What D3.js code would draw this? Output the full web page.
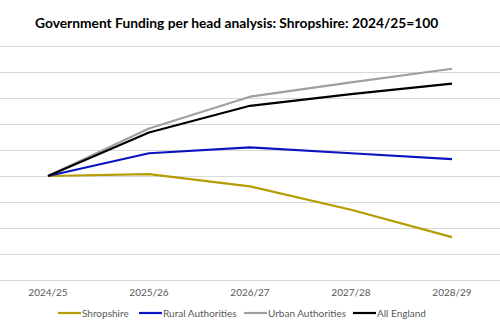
<!DOCTYPE html>
<html lang="en">
<head>
    <meta charset="UTF-8">
    <title>Government Funding per head analysis</title>
    <style>
        body { margin: 0; background: #fff; }
        .title { font-family: Lato, "Open Sans", sans-serif; font-weight: bold; font-size: 13.8px; fill: #000; }
        .tick-label, .legend text { font-family: Lato, "Open Sans", sans-serif; font-size: 10px; fill: #595959; }
        .grid line { stroke: #d9d9d9; stroke-width: 1px; }
        .series { fill: none; stroke-width: 2.2px; stroke-linejoin: round; }
    </style>
    <script src="https://d3js.org/d3.v7.min.js"></script>
</head>
<body>
    <div id="chart"></div>
    <script>
        const width = 500;
        const height = 333;

        // Index values, 2024/25 = 100
        const years = ["2024/25", "2025/26", "2026/27", "2027/28", "2028/29"];
        const shropshire = [100, 100.15, 99.2, 97.4, 95.3];
        const rural = [100, 101.75, 102.2, 101.75, 101.3];
        const urban = [100, 103.65, 106.1, 107.2, 108.25];
        const england = [100, 103.35, 105.4, 106.3, 107.1];
        const gridTicks = [92, 94, 96, 98, 100, 102, 104, 106, 108, 110];

        const series = [
            { name: "Shropshire", values: shropshire, color: "#b59c00" },
            { name: "Rural Authorities", values: rural, color: "#0a14c0" },
            { name: "Urban Authorities", values: urban, color: "#a0a0a0" },
            { name: "All England", values: england, color: "#000000" }
        ];

        const svg = d3.select("#chart").append("svg")
            .attr("width", width)
            .attr("height", height);

        const x = d3.scalePoint()
            .domain(years)
            .range([48, 452]);

        const y = d3.scaleLinear()
            .domain([92, 110])
            .range([280, 46]);

        svg.append("text")
            .attr("class", "title")
            .attr("x", 35)
            .attr("y", 28)
            .text("Government Funding per head analysis: Shropshire: 2024/25=100");

        // horizontal gridlines, running the full width
        svg.append("g")
            .attr("class", "grid")
            .selectAll("line")
            .data(gridTicks)
            .join("line")
            .attr("x1", 0)
            .attr("x2", width)
            .attr("y1", d => Math.round(y(d)) + 0.5)
            .attr("y2", d => Math.round(y(d)) + 0.5);

        svg.append("g")
            .selectAll("text")
            .data(years)
            .join("text")
            .attr("class", "tick-label")
            .attr("x", d => x(d))
            .attr("y", 296)
            .attr("text-anchor", "middle")
            .text(d => d);

        const line = d3.line()
            .x((d, i) => x(years[i]))
            .y(d => y(d));

        svg.append("g")
            .selectAll("path")
            .data(series)
            .join("path")
            .attr("class", "series")
            .attr("stroke", d => d.color)
            .attr("d", d => line(d.values));

        // legend along the bottom
        const legendX = [58, 139, 244, 353];
        const legend = svg.append("g")
            .attr("class", "legend")
            .selectAll("g")
            .data(series)
            .join("g")
            .attr("transform", (d, i) => `translate(${legendX[i]},313)`);

        legend.append("line")
            .attr("x1", 0)
            .attr("x2", 23)
            .attr("stroke", d => d.color)
            .attr("stroke-width", 2.2);

        legend.append("text")
            .attr("x", 24)
            .attr("dy", "0.35em")
            .text(d => d.name);
    </script>
</body>
</html>
